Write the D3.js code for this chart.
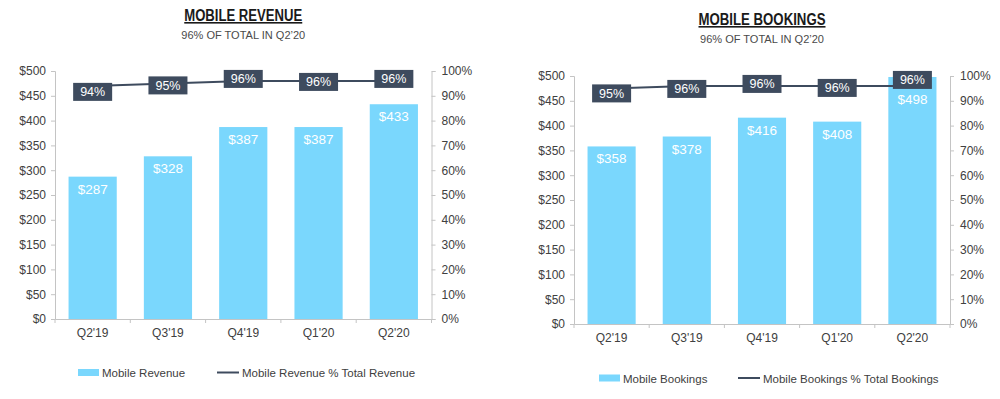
<!DOCTYPE html>
<html>
<head>
<meta charset="utf-8">
<script src="https://cdn.jsdelivr.net/npm/d3@7"></script>
<style>
  body { margin: 0; background: #fff; }
  svg { display: block; font-family: "Liberation Sans", Arial, sans-serif; }
</style>
</head>
<body>
<svg id="chart" width="1000" height="399"></svg>
<script>
// data
const quarters = ["Q2'19", "Q3'19", "Q4'19", "Q1'20", "Q2'20"];
const revenue = [287, 328, 387, 387, 433];
const revenuePct = [94, 95, 96, 96, 96];
const bookings = [358, 378, 416, 408, 498];
const bookingsPct = [95, 96, 96, 96, 96];
const dollarTicks = [0, 50, 100, 150, 200, 250, 300, 350, 400, 450, 500];
const pctTicks = [0, 10, 20, 30, 40, 50, 60, 70, 80, 90, 100];

const barColor = "#7AD7FD";
const boxColor = "#3E4B5E";
const axisColor = "#c4c4c4";
const textColor = "#404040";

const svg = d3.select("#chart");

function drawChart(opt) {
    const g = svg.append("g");
    const x = d3.scaleBand().domain(quarters).range([opt.left, opt.right]).paddingInner(0.36).paddingOuter(0.18);
    const y = d3.scaleLinear().domain([0, 500]).range([opt.bottom, opt.top]);
    const yp = d3.scaleLinear().domain([0, 100]).range([opt.bottom, opt.top]);

    // title
    const cx = (opt.left + opt.right) / 2;
    g.append("text")
        .attr("x", cx).attr("y", opt.titleY)
        .attr("text-anchor", "middle")
        .attr("font-weight", "bold")
        .attr("font-size", 16)
        .attr("fill", "#1a1a1a")
        .attr("text-decoration", "underline")
        .attr("textLength", opt.titleW)
        .attr("lengthAdjust", "spacingAndGlyphs")
        .text(opt.title);
    g.append("text")
        .attr("x", cx).attr("y", opt.titleY + 18)
        .attr("text-anchor", "middle")
        .attr("font-size", 11.5)
        .attr("fill", "#4a4a4a")
        .attr("textLength", 124)
        .attr("lengthAdjust", "spacingAndGlyphs")
        .text(opt.subtitle);

    // bars
    g.selectAll(".bar")
        .data(opt.values)
        .enter().append("rect")
        .attr("x", (d, i) => x(quarters[i]))
        .attr("y", d => y(d))
        .attr("width", x.bandwidth())
        .attr("height", d => y(0) - y(d))
        .attr("fill", barColor);

    // axes
    const left = g.append("g").attr("transform", `translate(${opt.left},0)`)
        .call(d3.axisLeft(y).tickValues(dollarTicks).tickSize(4).tickPadding(5).tickFormat(d => "$" + d));
    const right = g.append("g").attr("transform", `translate(${opt.right},0)`)
        .call(d3.axisRight(yp).tickValues(pctTicks).tickSize(4).tickPadding(6).tickFormat(d => d + "%"));
    const bottom = g.append("g").attr("transform", `translate(0,${opt.bottom})`)
        .call(d3.axisBottom(x).tickSize(0).tickPadding(9));
    [left, right, bottom].forEach(a => {
        a.select(".domain").attr("stroke", axisColor);
        a.selectAll(".tick line").attr("stroke", axisColor);
        a.selectAll("text").attr("font-size", 12).attr("fill", textColor)
            .attr("font-family", "'Liberation Sans', Arial, sans-serif");
    });
    // category separator ticks on x axis
    const step = x.step();
    g.selectAll(".xtick")
        .data(d3.range(quarters.length + 1))
        .enter().append("line")
        .attr("x1", i => opt.left + i * step).attr("x2", i => opt.left + i * step)
        .attr("y1", opt.bottom).attr("y2", opt.bottom + 4)
        .attr("stroke", axisColor);

    // percent line
    const cxOf = i => x(quarters[i]) + x.bandwidth() / 2;
    const line = d3.line().x((d, i) => cxOf(i)).y(d => yp(d));
    g.append("path")
        .datum(opt.pct)
        .attr("d", line)
        .attr("fill", "none")
        .attr("stroke", boxColor)
        .attr("stroke-width", 2);

    // bar value labels
    const boxH = 18, boxW = 39;
    g.selectAll(".val")
        .data(opt.values)
        .enter().append("text")
        .attr("x", (d, i) => cxOf(i))
        .attr("y", (d, i) => {
            const boxBottom = yp(opt.pct[i]) + opt.nudge[i] + boxH / 2;
            return Math.max(y(d) + 17, boxBottom + 15);
        })
        .attr("text-anchor", "middle")
        .attr("font-size", 13.5)
        .attr("fill", "#fff")
        .text(d => "$" + d);

    // percent label boxes
    const lab = g.selectAll(".pl")
        .data(opt.pct)
        .enter().append("g")
        .attr("transform", (d, i) => `translate(${cxOf(i)},${yp(d) + opt.nudge[i]})`);
    lab.append("rect")
        .attr("x", -boxW / 2).attr("y", -boxH / 2)
        .attr("width", boxW).attr("height", boxH)
        .attr("fill", boxColor);
    lab.append("text")
        .attr("y", 4.5)
        .attr("text-anchor", "middle")
        .attr("font-size", 12.5)
        .attr("fill", "#fff")
        .text(d => d + "%");

    // legend
    const lg = g.append("g").attr("transform", `translate(0,${opt.legendY})`);
    lg.append("rect").attr("x", opt.legendX).attr("y", -3.5).attr("width", 21).attr("height", 7).attr("fill", barColor);
    lg.append("text").attr("x", opt.legendX + 24).attr("y", 4.5).attr("font-size", 11.5).attr("fill", textColor).text(opt.barName);
    lg.append("line").attr("x1", opt.legendX + 139).attr("x2", opt.legendX + 161).attr("y1", 0).attr("y2", 0)
        .attr("stroke", boxColor).attr("stroke-width", 2);
    lg.append("text").attr("x", opt.legendX + 164).attr("y", 4.5).attr("font-size", 11.5).attr("fill", textColor).text(opt.lineName);
}

drawChart({
    title: "MOBILE REVENUE", subtitle: "96% OF TOTAL IN Q2\u201920",
    values: revenue, pct: revenuePct,
    left: 55, right: 431.5, top: 71, bottom: 319, titleY: 21, titleW: 118,
    nudge: [6, 2, -2, 1, -2],
    legendX: 78, legendY: 372.5,
    barName: "Mobile Revenue", lineName: "Mobile Revenue % Total Revenue"
});
drawChart({
    title: "MOBILE BOOKINGS", subtitle: "96% OF TOTAL IN Q2\u201920",
    values: bookings, pct: bookingsPct,
    left: 574, right: 950, top: 76, bottom: 324, titleY: 25, titleW: 127,
    nudge: [5, 3, -2, 2, -6],
    legendX: 599, legendY: 378,
    barName: "Mobile Bookings", lineName: "Mobile Bookings % Total Bookings"
});
</script>
</body>
</html>
